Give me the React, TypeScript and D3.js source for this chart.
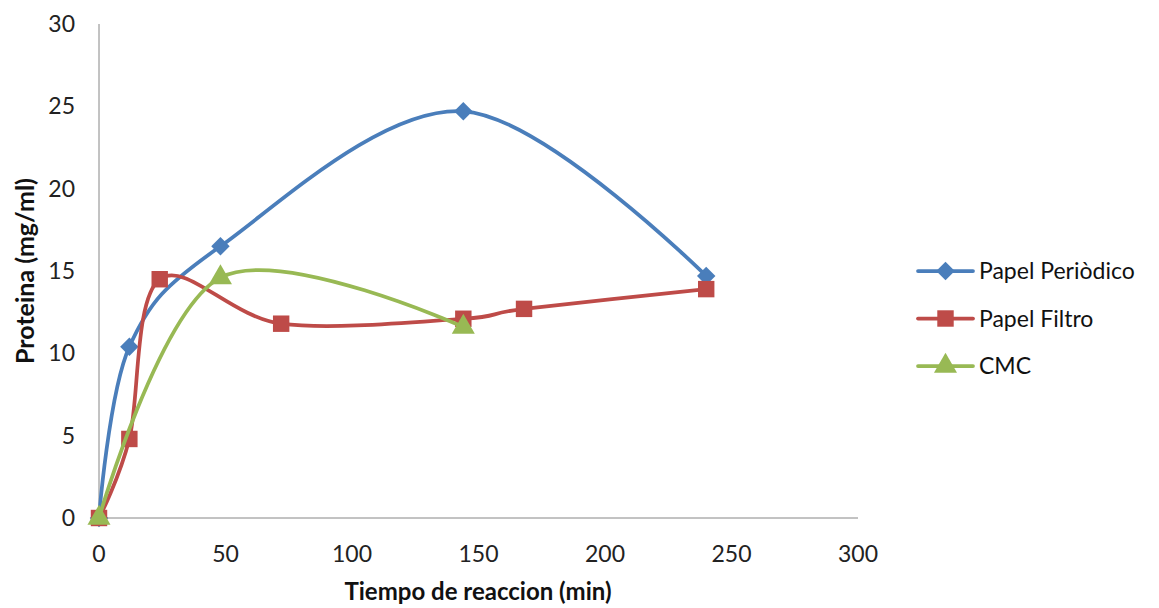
import React, { useRef, useEffect } from 'react';
import * as d3 from 'd3';

const seriesNames = ['Papel Periòdico', 'Papel Filtro', 'CMC'];
const periodicoX = [0, 12, 48, 144, 240];
const periodicoY = [0, 10.4, 16.5, 24.7, 14.7];
const filtroX = [0, 12, 24, 72, 144, 168, 240];
const filtroY = [0, 4.8, 14.5, 11.8, 12.1, 12.7, 13.9];
const cmcX = [0, 48, 144];
const cmcY = [0, 14.6, 11.6];
const xTicks = [0, 50, 100, 150, 200, 250, 300];
const yTicks = [0, 5, 10, 15, 20, 25, 30];

const colors = ['#4A7EBB', '#BE4B48', '#98B954'];

// excel-like square diamond
const diamond = {
  draw(ctx: any, size: number) {
    const r = Math.sqrt(size / 2);
    ctx.moveTo(0, -r);
    ctx.lineTo(r, 0);
    ctx.lineTo(0, r);
    ctx.lineTo(-r, 0);
    ctx.closePath();
  },
};
const symbols = [diamond, d3.symbolSquare, d3.symbolTriangle];
const symbolSizes = [170, 270, 230];

const W = 1159;
const H = 608;
const FONT = 'Lato, "Open Sans", sans-serif';

const App = () => {
  const ref = useRef<SVGSVGElement>(null);

  useEffect(() => {
    const svg = d3.select(ref.current);
    svg.selectAll('*').remove();

    const x = d3.scaleLinear().domain([0, 300]).range([99, 858]);
    const y = d3.scaleLinear().domain([0, 30]).range([518, 24]);

    const series = [
      periodicoX.map((v, i) => [v, periodicoY[i]]),
      filtroX.map((v, i) => [v, filtroY[i]]),
      cmcX.map((v, i) => [v, cmcY[i]]),
    ];

    // axes
    svg.append('line')
      .attr('x1', x(0)).attr('x2', x(0))
      .attr('y1', y(30)).attr('y2', y(0))
      .attr('stroke', '#868686').attr('stroke-width', 1);
    svg.append('line')
      .attr('x1', x(0)).attr('x2', x(300))
      .attr('y1', y(0)).attr('y2', y(0))
      .attr('stroke', '#868686').attr('stroke-width', 1);

    svg.append('g').selectAll('text').data(yTicks).join('text')
      .attr('x', 75).attr('y', (d) => y(d))
      .attr('dy', '0.35em')
      .attr('text-anchor', 'end')
      .attr('font-family', FONT).attr('font-size', 23).attr('fill', '#222')
      .text((d) => d);

    svg.append('g').selectAll('text').data(xTicks).join('text')
      .attr('x', (d) => x(d)).attr('y', 554)
      .attr('dy', '0.35em')
      .attr('text-anchor', 'middle')
      .attr('font-family', FONT).attr('font-size', 23).attr('fill', '#222')
      .text((d) => d);

    svg.append('text')
      .attr('x', 478).attr('y', 600)
      .attr('text-anchor', 'middle')
      .attr('font-family', FONT).attr('font-size', 24).attr('font-weight', 'bold')
      .attr('fill', '#111')
      .text('Tiempo de reaccion (min)');

    svg.append('text')
      .attr('transform', 'translate(25,271) rotate(-90)')
      .attr('dy', '0.35em')
      .attr('text-anchor', 'middle')
      .attr('font-family', FONT).attr('font-size', 25).attr('font-weight', 'bold')
      .attr('fill', '#111')
      .text('Proteina (mg/ml)');

    const line = d3.line<number[]>()
      .x((d) => x(d[0]))
      .y((d) => y(d[1]))
      .curve(d3.curveCardinal.tension(0));

    series.forEach((pts, i) => {
      const g = svg.append('g');
      g.append('path')
        .attr('d', line(pts))
        .attr('fill', 'none')
        .attr('stroke', colors[i])
        .attr('stroke-width', 3.75)
        .attr('stroke-linecap', 'round');
      g.selectAll('path.m').data(pts).join('path')
        .attr('class', 'm')
        .attr('d', d3.symbol().type(symbols[i]).size(symbolSizes[i])())
        .attr('transform', (d) => `translate(${x(d[0])},${y(d[1])})`)
        .attr('fill', colors[i]);
    });

    // legend
    const lg = svg.append('g').attr('transform', 'translate(918,271)');
    seriesNames.forEach((name, i) => {
      const row = lg.append('g').attr('transform', `translate(0,${i * 47.5})`);
      row.append('line')
        .attr('x1', 0).attr('x2', 55)
        .attr('stroke', colors[i]).attr('stroke-width', 3.75)
        .attr('stroke-linecap', 'round');
      row.append('path')
        .attr('d', d3.symbol().type(symbols[i]).size(symbolSizes[i])())
        .attr('transform', 'translate(27.5,0)')
        .attr('fill', colors[i]);
      row.append('text')
        .attr('x', 61).attr('dy', '0.35em')
        .attr('font-family', FONT).attr('font-size', 23).attr('fill', '#111')
        .text(name);
    });
  }, []);

  return (
    <div style={{ position: 'absolute', left: 0, top: 0 }}>
      <svg ref={ref} width={W} height={H} style={{ display: 'block', background: '#fff' }} />
    </div>
  );
};

export default App;
